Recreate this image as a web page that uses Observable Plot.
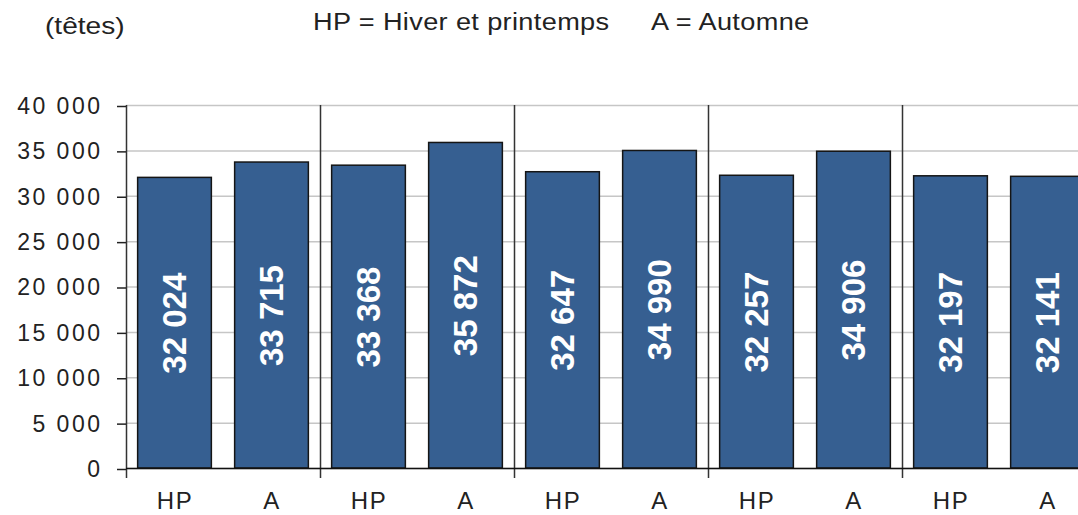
<!DOCTYPE html>
<html>
<head>
<meta charset="utf-8">
<script src="https://cdn.jsdelivr.net/npm/d3@7"></script>
<script src="https://cdn.jsdelivr.net/npm/@observablehq/plot@0.6"></script>
<style>
  html, body { margin: 0; padding: 0; background: #fff; }
  #wrap { position: relative; width: 1078px; font-family: "Liberation Sans", Arial, sans-serif; color: #222; }
  #header { position: relative; height: 60px; }
  #header span { position: absolute; white-space: pre; line-height: 1; transform-origin: 0 0; }
  #unit { left: 45px; top: 14px; font-size: 24px; transform: scaleX(1.17); }
  #legend1 { left: 313px; top: 11px; font-size: 23px; letter-spacing: 0.3px; transform: scaleX(1.18); }
  #legend2 { left: 651px; top: 11px; font-size: 23px; letter-spacing: 0.3px; transform: scaleX(1.18); }
  svg { display: block; }
</style>
</head>
<body>
<div id="wrap">
  <div id="header">
    <span id="unit">(têtes)</span>
    <span id="legend1">HP = Hiver et printemps</span>
    <span id="legend2">A = Automne</span>
  </div>
  <div id="chart"></div>
</div>
<script>
// --- data ---
const seasons = ["HP", "A", "HP", "A", "HP", "A", "HP", "A", "HP", "A"];
const values = [32024, 33715, 33368, 35872, 32647, 34990, 32257, 34906, 32197, 32141];
const yTicks = [0, 5000, 10000, 15000, 20000, 25000, 30000, 35000, 40000];
const groupEdges = [0, 2, 4, 6, 8, 10];

const data = values.map((v, i) => ({ i, season: seasons[i], value: v }));
const fr = d3.formatLocale({ decimal: ",", thousands: "\u00a0", grouping: [3], currency: ["", " €"] });
const fmt = fr.format(",d");

const chart = Plot.plot({
  width: 1078,
  height: 455,
  marginTop: 45,
  marginBottom: 47,
  marginLeft: 126,
  marginRight: 0,
  style: { fontFamily: "'Liberation Sans', Arial, sans-serif", color: "#222", background: "#fff" },
  x: { type: "linear", domain: [0, 10], range: [126, 1096] },
  y: { domain: [0, 40000] },
  marks: [
    Plot.ruleY(yTicks, { stroke: "#c6c6c6", strokeWidth: 1.5 }),
    Plot.rectY(data, {
      x1: d => d.i + 0.12,
      x2: d => d.i + 0.88,
      y1: 0,
      y2: "value",
      fill: "#365F91",
      stroke: "#151515",
      strokeWidth: 1.5
    }),
    Plot.text(data, {
      x: d => d.i + 0.5,
      y: d => d.value / 2,
      text: d => fmt(d.value),
      rotate: -90,
      fill: "white",
      fontSize: 33,
      fontWeight: "bold",
      ariaLabel: "bar-label"
    }),
    Plot.ruleX(groupEdges, { stroke: "#333", strokeWidth: 1.5, insetBottom: -10 }),
    Plot.ruleY([0], { stroke: "#111", strokeWidth: 1.5 }),
    Plot.axisY({
      ticks: yTicks,
      tickFormat: fmt,
      tickSize: 9,
      tickPadding: 15,
      fontSize: 23,
      dy: 1,
      label: null,
      stroke: "#222",
      strokeWidth: 1.5,
      fill: "#222"
    }),
    Plot.axisX({
      ticks: data.map(d => d.i + 0.5),
      tickFormat: t => seasons[Math.floor(t)],
      tickSize: 0,
      tickPadding: 23,
      fontSize: 24,
      label: null,
      fill: "#222"
    })
  ]
});

chart.querySelectorAll('[aria-label="y-axis tick label"] text').forEach(t => t.style.letterSpacing = "2.5px");
chart.querySelectorAll('[aria-label="x-axis tick label"] text').forEach(t => t.style.letterSpacing = "1.5px");
document.getElementById("chart").appendChild(chart);
</script>
</body>
</html>
